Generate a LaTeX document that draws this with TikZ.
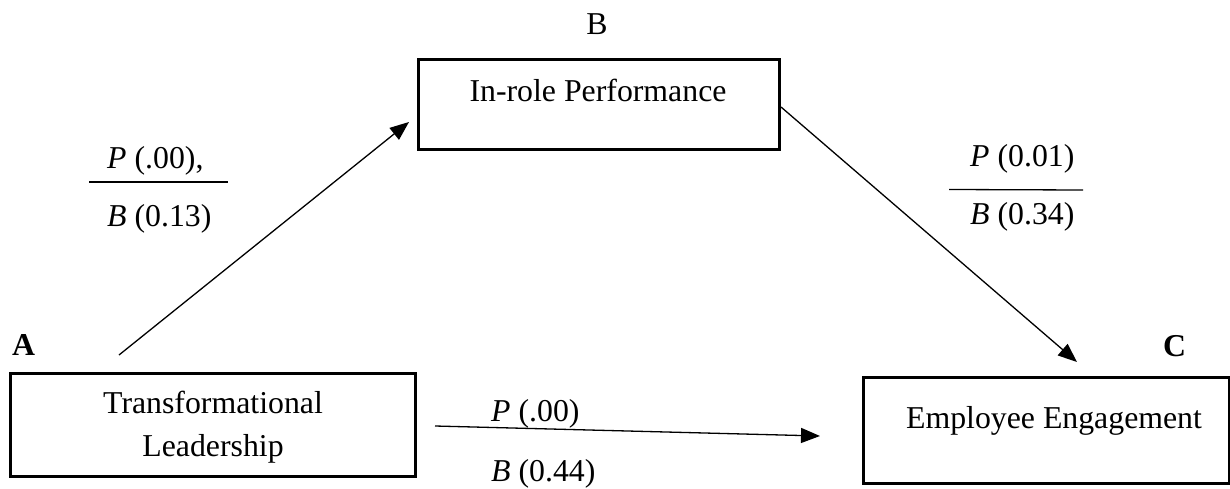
\documentclass[tikz,border=0pt]{standalone}
\usepackage{fontspec}
\setmainfont{Liberation Serif}
\usetikzlibrary{arrows.meta}
\tikzset{
  box/.style={draw, line width=3pt, inner sep=0pt},
  txt/.style={inner sep=0pt, font=\fontsize{31.8}{43}\selectfont},
  conn/.style={line width=1.3pt, -{Triangle[length=19pt,width=15pt]}},
  rule/.style={line width=1.3pt}
}
\begin{document}
\begin{tikzpicture}[x=1pt,y=-1pt]
\useasboundingbox (0,0) rectangle (1230,489);
% boxes
\node[box, minimum width=405pt, minimum height=103pt] (A) at (212.5,424.5) {};
\node[box, minimum width=361pt, minimum height=90pt] (B) at (598.5,105) {};
\node[box, minimum width=366pt, minimum height=106pt] (C) at (1046,430) {};
% box texts
\node[txt, align=center, anchor=base] (At) at (213,456) {Transformational\\Leadership};
\node[txt, anchor=base] (Bt) at (598,102) {In-role Performance};
\node[txt, anchor=base] (Ct) at (1054,428) {Employee Engagement};
% letters
\node[txt, anchor=base west] (Al) at (12,355) {\textbf{A}};
\node[txt, anchor=base] (Bl) at (597,35) {B};
\node[txt, anchor=base west] (Cl) at (1163,356) {\textbf{C}};
% connector ends
\coordinate (a1) at (119,355);
\coordinate (b1) at (409,122);
\coordinate (b2) at (781,107);
\coordinate (c1) at (1077,362);
\coordinate (a2) at (435,426);
\coordinate (c2) at (820,436);
\draw[conn] (a1) -- (b1);
\draw[conn] (b2) -- (c1);
\draw[conn] (a2) -- (c2);
% coefficient labels
\node[txt, anchor=base west] (p1) at (107,168) {\textit{P} (.00),};
\node[txt, anchor=base west] (q1) at (107,226) {\textit{B} (0.13)};
\coordinate (r1a) at (89,182);
\coordinate (r1b) at (228,182);
\draw[rule] (r1a) -- (r1b);
\node[txt, anchor=base west] (p2) at (970,167) {\textit{P} (0.01)};
\node[txt, anchor=base west] (q2) at (970,224) {\textit{B} (0.34)};
\coordinate (r2a) at (949,189.5);
\coordinate (r2b) at (1083,190);
\draw[rule] (r2a) -- (r2b);
\node[txt, anchor=base west] (p3) at (491,421) {\textit{P} (.00)};
\node[txt, anchor=base west] (q3) at (491,481) {\textit{B} (0.44)};
\end{tikzpicture}
\end{document}
